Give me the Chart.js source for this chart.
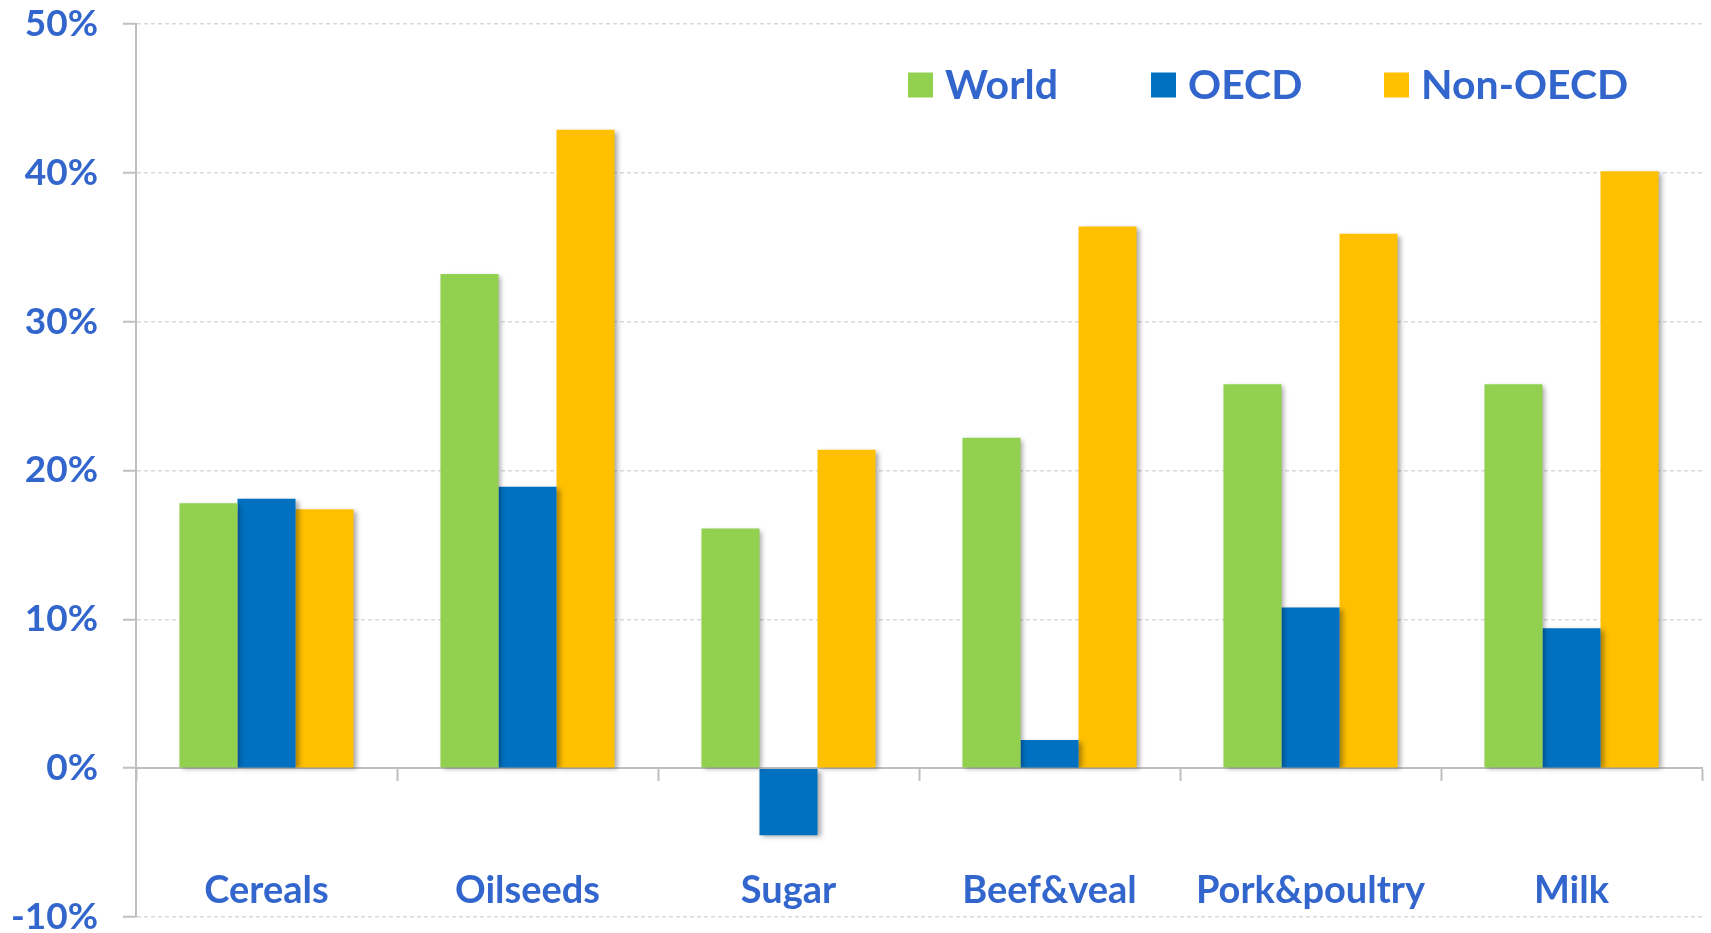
<!DOCTYPE html>
<html>
<head>
<meta charset="utf-8">
<script src="https://cdn.jsdelivr.net/npm/chart.js@4/dist/chart.umd.min.js"></script>
<style>
  html, body { margin: 0; padding: 0; background: #ffffff; }
  #wrap { width: 1711px; height: 933px; }
</style>
</head>
<body>
<div id="wrap"><canvas id="c" width="1711" height="933"></canvas></div>
<script>
const categories = ['Cereals', 'Oilseeds', 'Sugar', 'Beef&veal', 'Pork&poultry', 'Milk'];
const worldValues = [17.8, 33.2, 16.1, 22.2, 25.8, 25.8];
const oecdValues = [18.1, 18.9, -4.5, 1.9, 10.8, 9.4];
const nonOecdValues = [17.4, 42.9, 21.4, 36.4, 35.9, 40.1];
const seriesNames = ['World', 'OECD', 'Non-OECD'];
const yTicks = [-10, 0, 10, 20, 30, 40, 50];

const textBlue = '#3366cc';
const fontFamily = 'Lato, "Open Sans", sans-serif';

const shadowPlugin = {
  id: 'barShadow',
  beforeDatasetDraw(chart) {
    const c = chart.ctx;
    c.save();
    c.shadowColor = 'rgba(0,0,0,0.35)';
    c.shadowBlur = 5;
    c.shadowOffsetX = 3;
    c.shadowOffsetY = 2;
  },
  afterDatasetDraw(chart) {
    chart.ctx.restore();
  }
};

const legendPlugin = {
  id: 'innerLegend',
  afterDraw(chart) {
    const c = chart.ctx;
    const xs = [908, 1151, 1384];
    const yc = 85;
    c.save();
    c.font = 'bold 41px ' + fontFamily;
    c.textBaseline = 'middle';
    c.textAlign = 'left';
    chart.data.datasets.forEach((ds, i) => {
      c.fillStyle = ds.backgroundColor;
      c.fillRect(xs[i], yc - 12.5, 25, 25);
      c.fillStyle = textBlue;
      c.fillText(ds.label, xs[i] + 37, yc + 1);
    });
    c.restore();
  }
};

new Chart(document.getElementById('c'), {
  type: 'bar',
  data: {
    labels: categories,
    datasets: [
      { label: seriesNames[0], data: worldValues, backgroundColor: '#92D050' },
      { label: seriesNames[1], data: oecdValues, backgroundColor: '#0070C0' },
      { label: seriesNames[2], data: nonOecdValues, backgroundColor: '#FFC000' }
    ]
  },
  options: {
    responsive: false,
    animation: false,
    devicePixelRatio: 1,
    layout: { padding: { top: 24, bottom: 16, left: 0, right: 9 } },
    datasets: { bar: { categoryPercentage: 0.667, barPercentage: 1.0, borderWidth: 0 } },
    plugins: { legend: { display: false }, tooltip: { enabled: false } },
    scales: {
      x: {
        position: { y: 0 },
        grid: {
          drawOnChartArea: false,
          drawTicks: true,
          tickLength: 12,
          tickColor: '#bfbfbf',
          tickWidth: 2,
          offset: true
        },
        border: { display: true, color: '#bfbfbf', width: 2 },
        ticks: {
          color: textBlue,
          font: { family: fontFamily, size: 38, weight: 'bold' },
          padding: 88,
          maxRotation: 0
        }
      },
      y: {
        min: -10,
        max: 50,
        afterBuildTicks(scale) { scale.ticks = yTicks.map(v => ({ value: v })); },
        afterFit(scale) { scale.width = 136; scale.paddingTop = 0; scale.paddingBottom = 0; },
        grid: {
          color: '#d9d9d9',
          lineWidth: 1.5,
          tickColor: '#bfbfbf',
          tickWidth: 2,
          tickLength: 13,
          tickBorderDash: [],
          drawTicks: true
        },
        border: { display: true, color: '#bfbfbf', width: 2, dash: [4, 3] },
        ticks: {
          color: textBlue,
          padding: 25,
          font: { family: fontFamily, size: 37, weight: 'bold', lineHeight: 1.0 },
          callback: v => v + '%'
        }
      }
    }
  },
  plugins: [shadowPlugin, legendPlugin]
});
</script>
</body>
</html>
